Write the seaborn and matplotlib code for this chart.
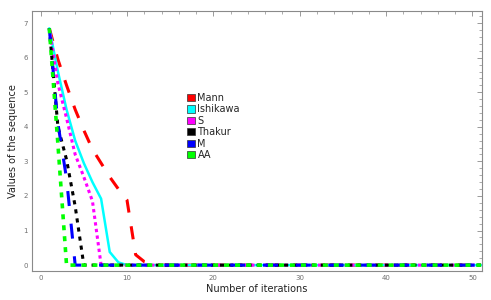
import numpy as np
import pandas as pd
import matplotlib
matplotlib.use("Agg")
import matplotlib.pyplot as plt
from matplotlib.patches import Patch
from matplotlib.ticker import MultipleLocator
import seaborn as sns

# --- values (iterations 1..51, zeros after convergence) ---
n_iter = 51
mann = [6.85, 5.95, 5.2, 4.5, 3.9, 3.35, 2.95, 2.55, 2.2, 1.88, 0.3, 0.1, 0.03]
ishikawa = [6.85, 5.6, 4.5, 3.6, 2.95, 2.4, 1.92, 0.38, 0.08]
s_iter = [6.85, 5.25, 4.25, 3.2, 2.55, 1.85]
thakur = [6.85, 4.0, 3.05, 1.7]
m_iter = [6.85, 4.1, 2.5]
aa = [6.85, 3.5]

names = ["Mann", "Ishikawa", "S", "Thakur", "M", "AA"]
series = [mann, ishikawa, s_iter, thakur, m_iter, aa]
colors = ["#ff0000", "#00ffff", "#ff00ff", "#000000", "#0000ff", "#00ff00"]
# dash patterns in points (on, off); None = solid
dashes = [(9.5, 10.0), None, (2.4, 2.4), (3.0, 3.6), (10.8, 12.8), (3.6, 4.3)]
widths = [2.2, 1.8, 2.2, 2.2, 2.2, 2.6]

rows = []
for name, vals in zip(names, series):
    full = list(vals) + [0.0] * (n_iter - len(vals))
    for i, v in enumerate(full):
        rows.append({"iteration": i + 1, "value": v, "method": name})
df = pd.DataFrame(rows)

sns.set_theme(style="white")
plt.rcParams["font.family"] = ["DejaVu Sans"]
plt.rcParams["lines.scale_dashes"] = False

fig = plt.figure(figsize=(4.91, 3.0), dpi=100)
ax = fig.add_axes([32 / 491, 29 / 300, 450 / 491, 260 / 300])

for name, col, dsh, lw in zip(names, colors, dashes, widths):
    sub = df[df["method"] == name]
    ls = "-" if dsh is None else (0, dsh)
    sns.lineplot(data=sub, x="iteration", y="value", ax=ax, color=col,
                 linestyle=ls, linewidth=lw, legend=False, estimator=None)
for ln in ax.get_lines():
    ln.set_dash_capstyle("butt")
    ln.set_solid_joinstyle("miter")

ax.set_xlim(-1.0, 51.1)
ax.set_ylim(-0.17, 7.35)

grey = "#8a8a8a"
for sp in ax.spines.values():
    sp.set_color(grey)
    sp.set_linewidth(0.8)
ax.xaxis.set_major_locator(MultipleLocator(10))
ax.xaxis.set_minor_locator(MultipleLocator(2))
ax.yaxis.set_major_locator(MultipleLocator(1))
ax.yaxis.set_minor_locator(MultipleLocator(0.2))
ax.tick_params(which="both", direction="in", top=True, right=True,
               color=grey, labelcolor="#707070", labelsize=5, pad=3)
ax.tick_params(which="major", length=3.5, width=0.6)
ax.tick_params(which="minor", length=2, width=0.5)

ax.set_xlabel("Number of iterations", fontsize=7, color="#222222", labelpad=2)
ax.set_ylabel("Values of the sequence", fontsize=7, color="#222222", labelpad=4)

handles = [Patch(facecolor=c, edgecolor="#333333", linewidth=0.5, label=n)
           for n, c in zip(names, colors)]
ax.legend(handles=handles, loc="upper left", bbox_to_anchor=(0.345, 0.685),
          frameon=False, fontsize=7, handlelength=0.75, handleheight=0.75,
          handletextpad=0.3, labelspacing=0.15, borderpad=0, borderaxespad=0)

fig.savefig("out.png", dpi=100)
